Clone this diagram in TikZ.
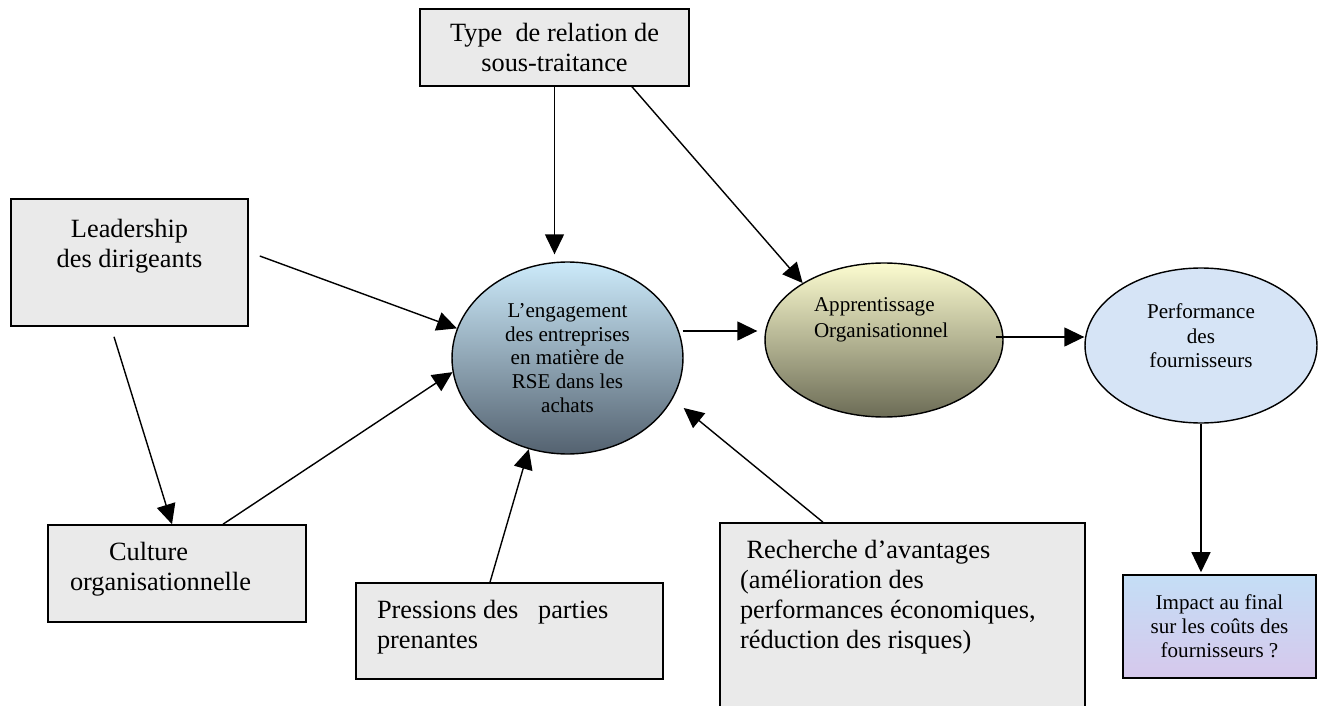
\documentclass[tikz,border=0pt]{standalone}
\usepackage{fontspec}
\setmainfont{Liberation Serif}
\usepackage{xcolor}
\usetikzlibrary{
    arrows.meta,
    positioning,
    calc,
    shapes.geometric
}
\definecolor{boxgray}{RGB}{234,234,234}
\definecolor{engtop}{RGB}{204,234,250}
\definecolor{engmid}{RGB}{150,178,198}
\definecolor{engbot}{RGB}{84,98,112}
\definecolor{apprtop}{RGB}{252,252,208}
\definecolor{apprbot}{RGB}{108,108,86}
\definecolor{perffill}{RGB}{214,228,246}
\definecolor{imptop}{RGB}{196,222,246}
\definecolor{impbot}{RGB}{214,200,236}
\newcommand{\padtext}[4]{\parbox[c][#1][t]{#2}{\vspace*{#3}#4}}

\begin{document}
\begin{tikzpicture}[
        x=0.02cm, y=-0.02cm,
        block/.style={draw, line width=0.9pt, fill=boxgray, inner sep=0pt, font=\fontsize{15}{17.2}\selectfont},
        bubble/.style={draw, ellipse, line width=0.8pt, inner sep=0pt, align=center, font=\fontsize{12}{13.6}\selectfont},
        arrow/.style={-{Triangle[length=0.4cm, width=0.38cm]}, line width=0.8pt}
    ]
        \useasboundingbox (0,0) rectangle (1323,706);
        \clip (0,0) rectangle (1323,706);

        % Sous-traitance
        \node[block, align=center, minimum width=5.38cm, minimum height=1.54cm] (type) at (554.5,47.5) {
            Type\ \ de relation de\\
            sous-traitance
        };

        % Leadership
        \node[block, minimum width=4.74cm, minimum height=2.54cm] (lead) at (129.5,262.5) {%
            \padtext{2.54cm}{4.74cm}{0.4cm}{\centering Leadership\\des dirigeants}};

        % Culture
        \node[block, minimum width=5.16cm, minimum height=1.94cm] (cult) at (177,573.5) {%
            \padtext{1.94cm}{5.16cm}{0.34cm}{\raggedright\leftskip=0.44cm\relax
            \hspace*{0.78cm}Culture\\organisationnelle}};

        % Pressions
        \node[block, minimum width=6.14cm, minimum height=1.92cm] (press) at (509.5,631) {%
            \padtext{1.92cm}{6.14cm}{0.34cm}{\raggedright\leftskip=0.42cm\relax
            Pressions des\ \ \ parties\\prenantes}};

        % Recherche
        \node[block, minimum width=7.3cm, minimum height=3.68cm] (rech) at (902.5,615) {%
            \padtext{3.68cm}{7.3cm}{0.34cm}{\raggedright\leftskip=0.4cm\relax
            \ Recherche d’avantages\\(amélioration des\\performances économiques,\\réduction des risques)}};

        % Engagement RSE
        \node[bubble, top color=engtop, middle color=engmid, bottom color=engbot,
              minimum width=4.62cm, minimum height=3.84cm] (eng) at (567.5,358) {
            L’engagement\\
            des entreprises\\
            en matière de\\
            RSE dans les\\
            achats
        };

        % Apprentissage
        \node[bubble, top color=apprtop, bottom color=apprbot,
              minimum width=4.76cm, minimum height=3.08cm] (appr) at (884,340) {%
            \padtext{1.68cm}{2.8cm}{0pt}{\fontsize{12}{14.7}\selectfont\raggedright
            Apprentissage\\Organisationnel}};

        % Performance
        \node[bubble, fill=perffill, minimum width=4.64cm, minimum height=3.1cm] (perf) at (1201,345.5) {%
            \padtext{1.66cm}{2.5cm}{0pt}{\fontsize{12}{13.9}\selectfont\centering
            Performance\\des\\fournisseurs}};

        % Impact
        \node[block, top color=imptop, bottom color=impbot, align=center,
              font=\fontsize{12}{13.6}\selectfont,
              minimum width=3.86cm, minimum height=2.06cm] (impact) at (1219.5,626.5) {
            Impact au final\\
            sur les coûts des\\
            fournisseurs ?
        };

        % Arrows
        \draw[arrow, shorten >=0.14cm] (type.south) -- (type.south |- eng.north);
        \draw[arrow] ($(type.south)+(77.5,0)$) -- (appr.145);
        \draw[arrow] ($(lead.east)+(11,-6.5)$) -- (eng.165);
        \draw[arrow] ($(lead.south)+(-15.5,10)$) -- ($(cult.north)+(-5,0)$);
        \draw[arrow] ($(cult.north)+(46,0)$) -- (eng.187);
        \draw[arrow] ($(press.north)+(-19.5,0)$) -- (eng.247);
        \draw[arrow] ($(rech.north)+(-79.5,0)$) -- ($(eng.east)+(0,50)$);
        \draw[arrow] ($(eng.east)+(-1,-27)$) -- ($(appr.west)+(-7,-9)$);
        \draw[arrow] ($(appr.east)+(-8,-3)$) -- ($(perf.west)+(0,-8.5)$);
        \draw[arrow, shorten >=0.04cm] (perf.south) -- (perf.south |- impact.north);
    \end{tikzpicture}
\end{document}
